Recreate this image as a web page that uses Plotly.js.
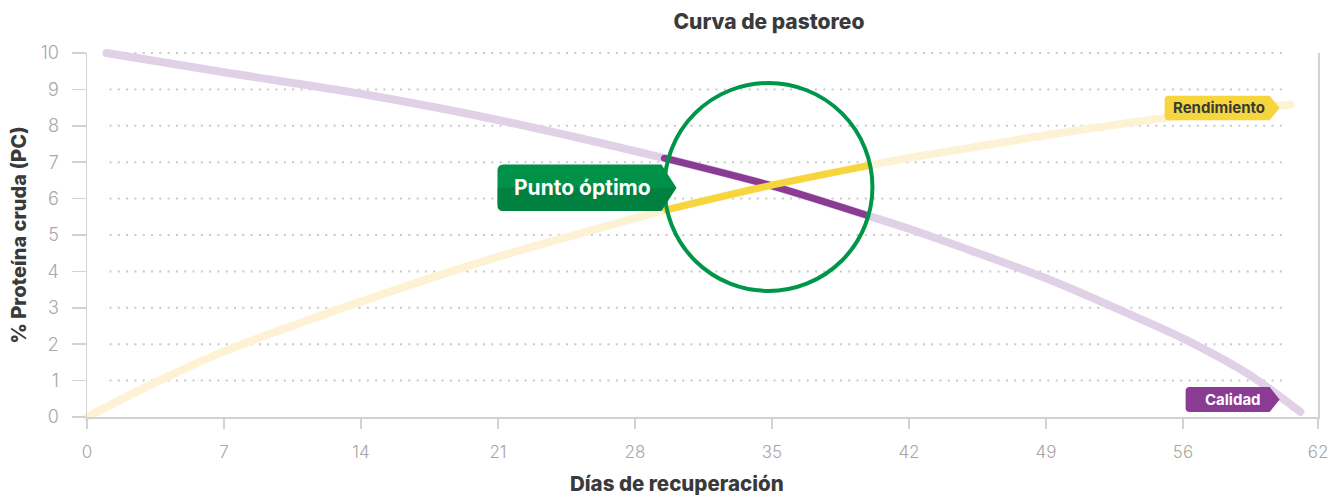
<!DOCTYPE html>
<html>
<head>
<meta charset="utf-8">
<script src="https://cdn.plot.ly/plotly-3.0.1.min.js"></script>
<style>
  html, body { margin: 0; padding: 0; background: #ffffff; }
  #chart { width: 1335px; height: 496px; }
  .scatterlayer path.js-line { stroke-linecap: round; stroke-linejoin: round; }
</style>
</head>
<body>
<div id="chart"></div>
<script>
// ---- data ----
const diasCalidad = [1, 7, 14, 21, 29.5, 35, 39.8, 42, 49, 52.4, 56, 59.3, 62];
const calidad     = [10, 9.47, 8.88, 8.16, 7.11, 6.35, 5.55, 5.17, 3.81, 3.03, 2.16, 1.19, 0.14];

const diasRend    = [0, 3.5, 7, 14, 21, 28, 29.6, 35, 39.85, 42, 45, 49, 56, 61.5];
const rendimiento = [0, 0.95, 1.80, 3.17, 4.40, 5.46, 5.69, 6.37, 6.9, 7.12, 7.38, 7.74, 8.28, 8.58];

// zone around the optimum (highlighted segments)
const diasCalidadOpt = [29.5, 35, 39.8];
const calidadOpt     = [7.11, 6.35, 5.55];
const diasRendOpt    = [29.6, 35, 39.85];
const rendOpt        = [5.69, 6.37, 6.9];

// axis ticks
const xTickVals  = [0, 7, 14, 21, 28, 35, 42, 49, 56, 62.9];
const xTickText  = ['0', '7', '14', '21', '28', '35', '42', '49', '56', '62'];
const yTickVals  = [0, 1, 2, 3, 4, 5, 6, 7, 8, 9, 10];

// labels
const titulo       = 'Curva de pastoreo';
const tituloX      = 'Días de recuperación';
const tituloY      = '% Proteína cruda (PC)';
const etiquetaRend = 'Rendimiento';
const etiquetaCal  = 'Calidad';
const etiquetaOpt  = 'Punto óptimo';

// ---- styling / positions (not data) ----
const FONT = 'Inter, "Libre Franklin", Roboto, "Open Sans", sans-serif';
const C = {
  calLight: '#e0d1e7', calDark: '#8a3b94',
  rendLight: '#fdf2d4', rendDark: '#f6d63c',
  green: '#00964a', greenDark: '#006f36',
  axis: '#d2d2d2', grid: '#c8c8c8', tick: '#a6a6a6', dark: '#3a3a3a'
};
const optCenter = {x: 34.82, y: 6.32, r: 104};
const tagRend = {x: 60.94, y: 8.49};
const tagCal  = {x: 60.94, y: 0.48};
const tagOpt  = {x: 30.12, y: 6.30};

function tagPath(w, h, tip, r) {
  // tip at (0,0), pixel coords, y up
  const hh = h / 2;
  return `M 0,0 L ${-tip},${hh} L ${-w + r},${hh} Q ${-w},${hh} ${-w},${hh - r} ` +
         `L ${-w},${-hh + r} Q ${-w},${-hh} ${-w + r},${-hh} L ${-tip},${-hh} Z`;
}
function lowerPart(w, h, tip, r) {
  const hh = h / 2;
  return `M 0,0 L ${-tip},${-hh} L ${-w + r},${-hh} Q ${-w},${-hh} ${-w},${-hh + r} L ${-w},0 Z`;
}
function pixelShape(anchor, path, fill, opacity) {
  return {type: 'path', xref: 'x', yref: 'y', xsizemode: 'pixel', ysizemode: 'pixel',
          xanchor: anchor.x, yanchor: anchor.y, path: path, opacity: opacity == null ? 1 : opacity,
          fillcolor: fill, line: {width: 0}, layer: 'above'};
}

const traces = [
  {x: diasRend, y: rendimiento, type: 'scatter', mode: 'lines', name: etiquetaRend, cliponaxis: false,
   line: {color: C.rendLight, width: 8, shape: 'spline', smoothing: 0.8}, hoverinfo: 'x+y'},
  {x: diasCalidad, y: calidad, type: 'scatter', mode: 'lines', name: etiquetaCal, cliponaxis: false,
   line: {color: C.calLight, width: 8, shape: 'spline', smoothing: 0.8}, hoverinfo: 'x+y'},
  {x: diasCalidadOpt, y: calidadOpt, type: 'scatter', mode: 'lines', name: etiquetaCal + ' (óptimo)',
   line: {color: C.calDark, width: 7, shape: 'spline', smoothing: 0.8}, hoverinfo: 'x+y'},
  {x: diasRendOpt, y: rendOpt, type: 'scatter', mode: 'lines', name: etiquetaRend + ' (óptimo)',
   line: {color: C.rendDark, width: 7, shape: 'spline', smoothing: 0.8}, hoverinfo: 'x+y'}
];

const shapes = [];
// dotted grid lines
yTickVals.filter(v => v > 0).forEach(v => {
  shapes.push({type: 'line', xref: 'x', yref: 'y', x0: 1.15, x1: 61.3, y0: v, y1: v,
               line: {color: C.grid, width: 2, dash: '2px,6.3px'}, layer: 'below'});
});
// optimum circle
shapes.push({type: 'circle', xref: 'x', yref: 'y', xsizemode: 'pixel', ysizemode: 'pixel',
             xanchor: optCenter.x, yanchor: optCenter.y,
             x0: -optCenter.r, x1: optCenter.r, y0: -optCenter.r, y1: optCenter.r,
             line: {color: C.green, width: 4}, layer: 'above'});
// tags
shapes.push(pixelShape(tagRend, tagPath(115, 24.5, 10, 4), C.rendDark));
shapes.push(pixelShape(tagCal, tagPath(94, 25, 10, 4), C.calDark));
shapes.push(pixelShape(tagOpt, tagPath(179, 46.5, 15, 6), '#009149'));
shapes.push(pixelShape(tagOpt, lowerPart(179, 46.5, 15, 6), C.greenDark, 0.45));

const annotations = [
  {x: tagRend.x, y: tagRend.y, xref: 'x', yref: 'y', text: etiquetaRend, showarrow: false,
   xanchor: 'center', yanchor: 'middle', xshift: -61, yshift: 0,
   font: {family: FONT, size: 15, color: C.dark, weight: 700}},
  {x: tagCal.x, y: tagCal.y, xref: 'x', yref: 'y', text: etiquetaCal, showarrow: false,
   xanchor: 'center', yanchor: 'middle', xshift: -47, yshift: 0,
   font: {family: FONT, size: 15, color: '#ffffff', weight: 700}},
  {x: tagOpt.x, y: tagOpt.y, xref: 'x', yref: 'y', text: etiquetaOpt, showarrow: false,
   xanchor: 'center', yanchor: 'middle', xshift: -94, yshift: 0,
   font: {family: FONT, size: 21, color: '#ffffff', weight: 700}},
  {x: 0.479, y: -0.184, xref: 'paper', yref: 'paper', text: tituloX, showarrow: false,
   xanchor: 'center', yanchor: 'middle',
   font: {family: FONT, size: 20.5, color: C.dark, weight: 800}}
];

const layout = {
  width: 1335, height: 496,
  margin: {l: 87, r: 17, t: 53, b: 79, pad: 0},
  paper_bgcolor: '#ffffff', plot_bgcolor: '#ffffff',
  showlegend: false,
  title: {text: titulo, x: 0.576, xanchor: 'center', y: 0.956, yanchor: 'middle',
          font: {family: FONT, size: 21, color: C.dark, weight: 800}},
  xaxis: {range: [0, 62.9], tickmode: 'array', tickvals: xTickVals, ticktext: xTickText,
          showgrid: false, zeroline: false, showline: true, linecolor: C.axis, linewidth: 1.5,
          ticks: 'outside', ticklen: 10, tickwidth: 1.5, tickcolor: C.axis,
          ticklabelstandoff: 9,
          tickfont: {family: FONT, size: 17, color: C.tick, weight: 300}, fixedrange: true},
  yaxis: {range: [0, 10], tickmode: 'array', tickvals: yTickVals,
          showgrid: false, zeroline: false, showline: true, mirror: true, linecolor: C.axis, linewidth: 1.5,
          ticks: 'outside', ticklen: 14, tickwidth: 1.5, tickcolor: C.axis,
          ticklabelstandoff: 9,
          tickfont: {family: FONT, size: 18, color: C.tick, weight: 300},
          title: {text: tituloY, standoff: 8, font: {family: FONT, size: 20, color: C.dark, weight: 800}},
          fixedrange: true},
  shapes: shapes,
  annotations: annotations
};

Plotly.newPlot('chart', traces, layout, {displayModeBar: false, staticPlot: true}).then(gd => {
  // let the thick curves show their round end caps beyond the plot edge
  gd.querySelectorAll('.cartesianlayer [clip-path], .scatterlayer [clip-path]').forEach(el => {
    el.removeAttribute('clip-path');
  });
});
</script>
</body>
</html>
